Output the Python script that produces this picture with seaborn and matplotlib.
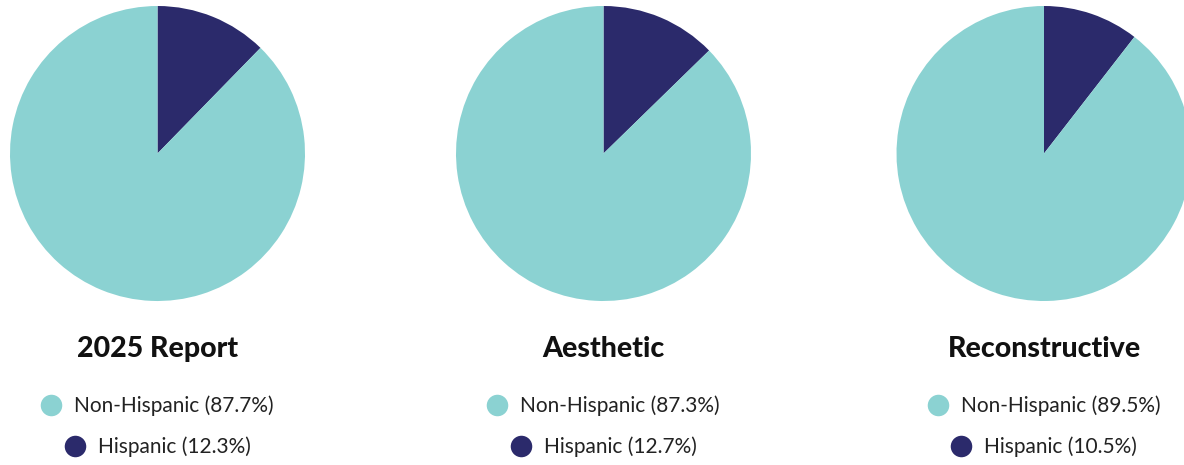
import matplotlib
matplotlib.use("Agg")
import matplotlib.pyplot as plt
from matplotlib.lines import Line2D
import seaborn as sns

sns.set_theme(style="white")
plt.rcParams['font.family'] = ['Lato', 'DejaVu Sans']

titles = ["2025 Report", "Aesthetic", "Reconstructive"]
categories = ["Hispanic", "Non-Hispanic"]
hispanic = [12.3, 12.7, 10.5]
non_hispanic = [87.7, 87.3, 89.5]
colors = {"Hispanic": "#2b2a6b", "Non-Hispanic": "#8bd2d2"}

W, H = 1184, 465
fig = plt.figure(figsize=(W / 100, H / 100), dpi=100)

centers_x = [157.5, 603.5, 1044]
center_y = 153.5
radius = 147.5

for i, title in enumerate(titles):
    cx = centers_x[i]
    ax = fig.add_axes([(cx - radius) / W, 1 - (center_y + radius) / H,
                       2 * radius / W, 2 * radius / H])
    vals = [hispanic[i], non_hispanic[i]]
    ax.pie(vals, colors=[colors[c] for c in categories], startangle=90,
           counterclock=False, radius=1.0,
           wedgeprops=dict(linewidth=0, antialiased=True))
    ax.set_xlim(-1, 1)
    ax.set_ylim(-1, 1)
    ax.set_aspect('equal')
    ax.axis('off')

    fig.text(cx / W, 1 - 349 / H, title, ha='center', va='center',
             fontsize=20.5, fontweight='black', color='#111111')

    rows = [("Non-Hispanic", non_hispanic[i], 406), ("Hispanic", hispanic[i], 446.5)]
    for name, v, y in rows:
        h = Line2D([], [], marker='o', linestyle='none', markersize=15.5,
                   markerfacecolor=colors[name], markeredgewidth=0)
        fig.legend([h], [f"{name} ({v}%)"], loc='center',
                   bbox_to_anchor=(cx / W, 1 - y / H), frameon=False,
                   fontsize=15, handletextpad=0.6, handlelength=1.0,
                   borderpad=0, labelcolor='#222222')

fig.savefig("out.png", dpi=100)
